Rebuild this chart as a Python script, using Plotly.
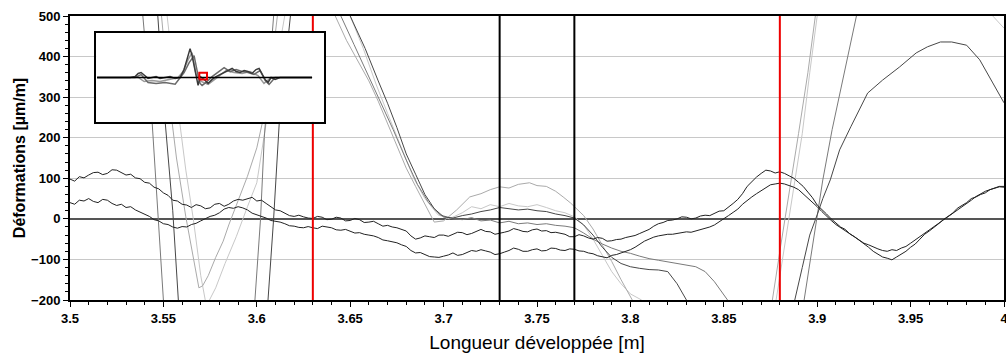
import plotly.graph_objects as go

# fenetre principale
x_range = [3.5, 4.0]
y_range = [-200, 500]

# reperes verticaux
red_marks = [3.63, 3.88]
black_marks = [3.73, 3.77]

# deux jauges lisibles sur toute la fenetre, une valeur tous les 2.5 mm
# (une ligne = 25 mm, de 3.500 a 4.000)
gauge_a = [98, 93, 104, 101, 108, 114, 115, 109, 112, 121,
           120, 113, 108, 110, 101, 99, 90, 88, 78, 74,
           64, 58, 46, 44, 36, 34, 28, 35, 32, 25,
           27, 36, 38, 31, 36, 44, 48, 46, 50, 53,
           44, 46, 38, 30, 22, 20, 14, 8, 6, 9,
           5, 2, 1, 6, 4, -2, -1, 4, 2, -5,
           -4, 1, -2, -9, -8, -6, -12, -18, -16, -20,
           -22, -26, -30, -42, -50, -47, -42, -44, -46, -40,
           -40, -43, -38, -33, -34, -39, -36, -30, -26, -31,
           -32, -38, -36, -33, -30, -24, -27, -31, -32, -27,
           -25, -30, -29, -34, -33, -36, -38, -44, -44, -39,
           -42, -47, -50, -46, -48, -55, -54, -51, -50, -46,
           -44, -41, -36, -31, -26, -18, -12, -9, -4, -3,
           0, 5, 4, 0, 2, 7, 9, 8, 14, 19,
           20, 28, 38, 48, 62, 80, 92, 103, 112, 120,
           118, 113, 116, 112, 106, 100, 90, 80, 66, 52,
           34, 24, 12, 0, -10, -20, -26, -37, -44, -52,
           -62, -70, -80, -86, -94, -97, -101, -94, -88, -80,
           -70, -62, -50, -38, -30, -22, -12, -2, 6, 14,
           26, 32, 40, 50, 54, 60, 64, 72, 76, 79,
           78]

gauge_b = [40, 36, 46, 44, 50, 43, 40, 48, 46, 38,
           33, 36, 28, 30, 22, 17, 10, 6, -2, -5,
           -12, -14, -20, -23, -19, -20, -14, -11, -5, 0,
           6, 9, 15, 24, 28, 26, 30, 27, 22, 14,
           10, 6, 2, -4, -6, -8, -12, -17, -18, -21,
           -22, -19, -22, -24, -18, -20, -22, -27, -28, -26,
           -30, -35, -34, -38, -40, -42, -46, -52, -54, -56,
           -59, -64, -68, -78, -84, -83, -88, -93, -94, -95,
           -92, -89, -84, -90, -88, -83, -78, -80, -76, -79,
           -82, -88, -86, -82, -78, -72, -75, -80, -80, -76,
           -74, -79, -78, -72, -73, -77, -78, -74, -75, -79,
           -80, -84, -86, -91, -94, -96, -90, -88, -84, -80,
           -76, -70, -62, -55, -50, -45, -42, -40, -38, -38,
           -36, -34, -32, -33, -30, -27, -24, -20, -15, -8,
           0, 8, 16, 24, 36, 46, 54, 62, 70, 78,
           84, 86, 88, 86, 82, 78, 72, 62, 52, 42,
           30, 18, 6, -4, -14, -22, -30, -38, -46, -52,
           -60, -64, -70, -74, -78, -80, -76, -78, -72, -68,
           -60, -52, -44, -34, -26, -18, -10, -3, 6, 12,
           22, 30, 38, 46, 55, 62, 68, 72, 76, 80,
           80]

grid_x = [round(3.5 + 0.0025 * i, 4) for i in range(len(gauge_a))]

# jauges qui sortent de la fenetre (valeurs hors cadre estimees)
gauge_c_x = [3.535, 3.549, 3.553, 3.557, 3.562, 3.566, 3.569, 3.571, 3.574, 3.578,
             3.582, 3.585, 3.590, 3.595, 3.600, 3.606, 3.611, 3.625,
             3.635, 3.642, 3.648, 3.655, 3.660, 3.665, 3.670, 3.675, 3.680, 3.685,
             3.690, 3.695, 3.700, 3.707, 3.714, 3.720, 3.725, 3.730, 3.735, 3.740,
             3.746, 3.750, 3.755, 3.760, 3.764, 3.768, 3.775, 3.780, 3.785, 3.790,
             3.795, 3.801, 3.840,
             3.876, 3.880, 3.885, 3.890, 3.895, 3.899, 3.920, 4.000]
gauge_c = [900, 500, 300, 150, 5, -100, -170, -165, -140, -95,
           -55, -15, 45, 105, 175, 300, 500, 900,
           700, 500, 440, 380, 340, 290, 235, 180, 125, 80,
           35, -8, -5, 22, 54, 62, 72, 79, 76, 85,
           89, 82, 80, 68, 54, 39, 8, -25, -65, -105,
           -150, -200, -600,
           -200, -80, 60, 210, 360, 500, 900, 1200]

gauge_d_x = [3.540, 3.552, 3.557, 3.562, 3.566, 3.570, 3.573, 3.578, 3.583, 3.589,
             3.595, 3.600, 3.605, 3.614, 3.630,
             3.640, 3.650, 3.657, 3.664, 3.670, 3.677, 3.684, 3.690, 3.697, 3.703,
             3.710, 3.715, 3.720, 3.725, 3.730, 3.735, 3.740, 3.745, 3.750, 3.755,
             3.760, 3.765, 3.770, 3.775, 3.780, 3.785, 3.790, 3.795, 3.800, 3.806,
             3.840,
             3.878, 3.882, 3.887, 3.892, 3.896, 3.900, 3.940, 3.994, 4.000]
gauge_d = [900, 500, 300, 120, 0, -140, -215, -170, -110, -44,
           30, 89, 236, 500, 900,
           800, 500, 420, 330, 260, 180, 100, 50, 10, 0,
           15, 30, 25, 35, 30, 38, 32, 30, 35, 28,
           20, 15, 5, -15, -50, -90, -130, -160, -185, -200,
           -600,
           -200, -80, 60, 210, 360, 500, 950, 500, 470]

gauge_e_x = [3.530, 3.547, 3.551, 3.555, 3.558, 3.580, 3.606, 3.609, 3.612, 3.618,
             3.635,
             3.645, 3.650, 3.658, 3.665, 3.670, 3.675, 3.680, 3.685, 3.690, 3.695,
             3.700, 3.705, 3.710, 3.715, 3.720, 3.725, 3.730, 3.735, 3.740, 3.745,
             3.750, 3.755, 3.760, 3.765, 3.770, 3.775, 3.780, 3.785, 3.790, 3.795,
             3.800, 3.805, 3.810, 3.815, 3.820, 3.825, 3.830, 3.860,
             3.888, 3.892, 3.896, 3.900, 3.903, 3.907, 3.912, 3.918, 3.927, 3.935,
             3.944, 3.953, 3.959, 3.966, 3.972, 3.980, 3.987, 3.994, 4.000]
gauge_e = [900, 500, 236, 20, -200, -600, -200, 0, 236, 500,
           900,
           600, 500, 420, 340, 285, 225, 160, 110, 60, 25,
           5, 2, 8, 12, 18, 22, 28, 25, 22, 24,
           20, 18, 12, 8, 2, -15, -40, -70, -95, -110,
           -118, -122, -125, -126, -130, -160, -200, -500,
           -200, -120, -40, 10, 50, 96, 170, 227, 310, 342,
           374, 409, 424, 436, 436, 428, 392, 335, 286]

gauge_f_x = [3.525, 3.539, 3.544, 3.547, 3.550, 3.575, 3.599, 3.602, 3.604, 3.609,
             3.625,
             3.635, 3.645, 3.652, 3.660, 3.667, 3.673, 3.680, 3.686, 3.692, 3.698,
             3.705, 3.710, 3.715, 3.720, 3.725, 3.730, 3.735, 3.740, 3.745, 3.750,
             3.755, 3.760, 3.765, 3.770, 3.775, 3.780, 3.785, 3.790, 3.795, 3.800,
             3.805, 3.810, 3.815, 3.820, 3.825, 3.830, 3.835, 3.840, 3.845, 3.852,
             3.870,
             3.893, 3.898, 3.903, 3.908, 3.914, 3.921, 3.950, 4.000]
gauge_f = [900, 500, 236, 20, -200, -600, -200, 0, 200, 500,
           900,
           700, 500, 430, 350, 280, 220, 145, 85, 40, 10,
           0, -2, 3, -5, -3, -10, -6, -12, -10, -14,
           -12, -16, -18, -22, -35, -50, -62, -72, -80, -85,
           -92, -98, -102, -106, -110, -114, -118, -130, -155, -200,
           -500,
           -200, -50, 96, 220, 350, 500, 900, 1100]

# vue d'ensemble (encart) : abscisse en m, deformations en um/m
inset_x_range = [-3.2, 11.6]
inset_y_range = [-4650, 4650]
inset_base_x = [-3.14, 10.82]
inset_base_y = [0, 0]

inset_1_x = [-3.14, -0.99, -0.67, -0.47, -0.28, -0.08, 0.17, 0.43, 0.69, 0.95,
             1.28, 1.60, 1.93, 2.25, 2.51, 2.71, 2.90, 3.03, 3.16, 3.29,
             3.42, 3.55, 3.81, 4.07, 4.33, 4.59, 4.85, 5.11, 5.37, 5.63,
             5.89, 6.15, 6.41, 6.66, 6.92, 7.18, 7.38, 7.57, 7.77, 7.96,
             8.16, 8.42, 8.74, 10.82]
inset_1_y = [0, 0, 100, 420, 520, 200, -100, 0, 100, -100,
             0, 100, -100, 0, 830, 2080, 3020, 2290, 1250, 0,
             -830, 100, -200, -620, -200, 100, 310, 520, 730, 940,
             620, 520, 730, 620, 420, 830, 940, 420, -200, -520,
             0, -200, 0, 0]

inset_2_x = [-3.14, -0.67, -0.28, 0.17, 0.69, 1.28, 1.93, 2.25, 2.51, 2.84,
             3.16, 3.42, 3.55, 3.68, 3.94, 4.33, 4.72, 5.11, 5.50, 5.89,
             6.28, 6.66, 7.05, 7.44, 7.77, 8.03, 8.42, 10.82]
inset_2_y = [0, 0, 300, -520, -620, -520, -700, 0, 520, 1560,
             2290, 200, -620, -830, -520, 100, 620, 1040, 620, 830,
             620, 520, 310, 730, -300, -730, 0, 0]

inset_3_x = [-3.14, -0.47, -0.08, 0.43, 0.95, 1.60, 2.12, 2.45, 2.77, 3.03,
             3.29, 3.62, 4.07, 4.59, 5.24, 5.76, 6.28, 6.79, 7.31, 7.70,
             8.16, 10.82]
inset_3_y = [0, 0, -420, -310, -420, -200, 0, 620, 1870, 2600,
             310, -420, -730, -100, 730, 520, 410, 620, 200, -620,
             0, 0]


fig = go.Figure()

# courbes grises (les plus claires dessous)
for gx, gy, col in [(gauge_d_x, gauge_d, '#c8c8c8'),
                    (gauge_c_x, gauge_c, '#aaaaaa'),
                    (gauge_f_x, gauge_f, '#7a7a7a'),
                    (gauge_e_x, gauge_e, '#474747')]:
    fig.add_trace(go.Scatter(x=gx, y=gy, mode='lines', line=dict(color=col, width=1)))

# jauges principales
fig.add_trace(go.Scatter(x=grid_x, y=gauge_b, mode='lines', line=dict(color='#222222', width=1)))
fig.add_trace(go.Scatter(x=grid_x, y=gauge_a, mode='lines', line=dict(color='#222222', width=1)))

# reperes verticaux
for v in red_marks:
    fig.add_trace(go.Scatter(x=[v, v], y=y_range, mode='lines', line=dict(color='#ee0000', width=2)))
for v in black_marks:
    fig.add_trace(go.Scatter(x=[v, v], y=y_range, mode='lines', line=dict(color='black', width=2)))

# encart
for ix, iy, col in [(inset_3_x, inset_3_y, '#9a9a9a'),
                    (inset_2_x, inset_2_y, '#6a6a6a'),
                    (inset_1_x, inset_1_y, '#3a3a3a')]:
    fig.add_trace(go.Scatter(x=ix, y=iy, mode='lines', line=dict(color=col, width=1.5),
                             xaxis='x2', yaxis='y2'))
fig.add_trace(go.Scatter(x=inset_base_x, y=inset_base_y, mode='lines',
                         line=dict(color='black', width=1.5), xaxis='x2', yaxis='y2'))
# cadre de la fenetre principale dans l'encart
box_x = [x_range[0], x_range[1], x_range[1], x_range[0], x_range[0]]
box_y = [y_range[0], y_range[0], y_range[1], y_range[1], y_range[0]]
fig.add_trace(go.Scatter(x=box_x, y=box_y, mode='lines', line=dict(color='#ee0000', width=2),
                         xaxis='x2', yaxis='y2'))

fig.update_layout(
    width=1006, height=356,
    margin=dict(l=70, r=2, t=16, b=56),
    paper_bgcolor='white', plot_bgcolor='white',
    showlegend=False,
    font=dict(family='Liberation Sans, Arial, sans-serif', color='black'),
    xaxis=dict(range=x_range, tick0=3.5, dtick=0.05, ticks='outside', ticklen=5,
               tickcolor='black', showline=True, linecolor='black', linewidth=2,
               mirror=True, showgrid=False, zeroline=False, automargin=False,
               ticklabeloverflow='allow',
               minor=dict(dtick=0.01, ticks='outside', ticklen=3, tickcolor='black', showgrid=False),
               tickfont=dict(size=13, weight='bold'),
               title=dict(text='Longueur développée [m]', font=dict(size=19), standoff=11)),
    yaxis=dict(range=y_range, dtick=100, ticks='outside', ticklen=5, tickcolor='black',
               showline=True, linecolor='black', linewidth=2, mirror=True,
               showgrid=True, gridcolor='#c8c8c8', gridwidth=1, automargin=False,
               zeroline=True, zerolinecolor='#555555', zerolinewidth=1.5,
               minor=dict(dtick=20, ticks='outside', ticklen=3, tickcolor='black', showgrid=False),
               tickfont=dict(size=13, weight='bold'),
               title=dict(text='Déformations [µm/m]', font=dict(size=16, weight='bold'), standoff=2)),
    xaxis2=dict(domain=[0.028, 0.272], anchor='y2', range=inset_x_range, automargin=False,
                showticklabels=False, ticks='', showgrid=False, zeroline=False,
                showline=True, linecolor='black', linewidth=2, mirror=True),
    yaxis2=dict(domain=[0.627, 0.940], anchor='x2', range=inset_y_range, automargin=False,
                showticklabels=False, ticks='', showgrid=False, zeroline=False,
                showline=True, linecolor='black', linewidth=2, mirror=True),
)

# la page par defaut ajoute 8 px de marge autour du graphique
fig.write_html("out.html", config={'displayModeBar': False},
               post_script="document.body.style.margin = '0';")
